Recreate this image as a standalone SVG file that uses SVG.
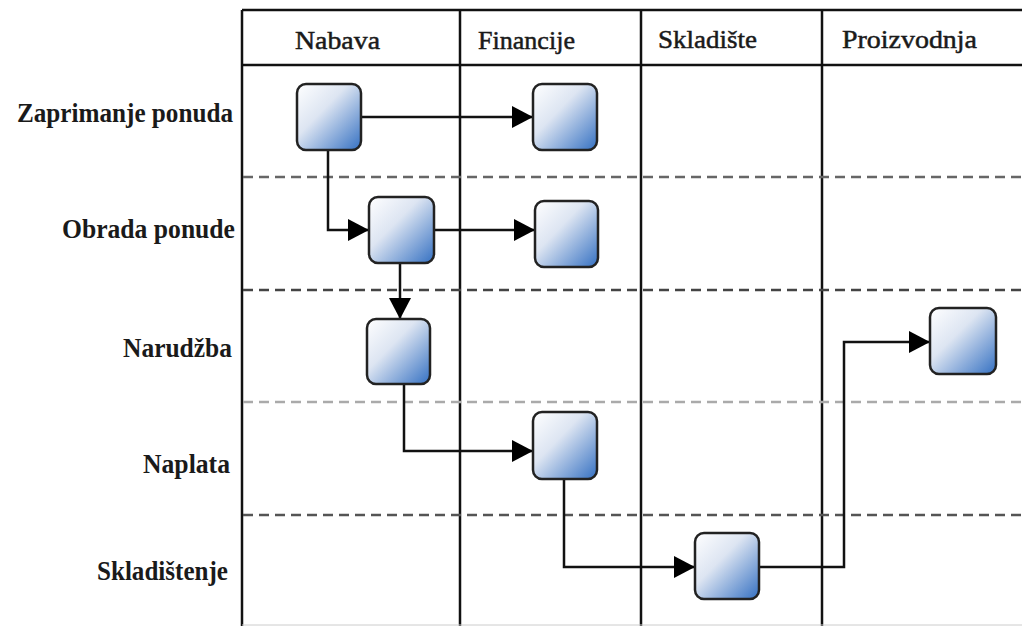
<svg xmlns="http://www.w3.org/2000/svg" width="1022" height="626" viewBox="0 0 1022 626">
<style>
.grid{stroke:#111;stroke-width:2.5;fill:none}
.dash{stroke-width:2.5;stroke-dasharray:10 6;fill:none}
.hdr{font-family:"Liberation Serif","Times New Roman",serif;font-size:26px;fill:#1a1a1a;stroke:#1a1a1a;stroke-width:0.5}
.row{font-family:"Liberation Serif","Times New Roman",serif;font-size:28px;font-weight:bold;fill:#1a1a1a;text-anchor:end}
.box{fill:url(#g);stroke:#222;stroke-width:2.5}
.con{stroke:#111;stroke-width:2.5;fill:none;marker-end:url(#arr)}
</style>
<defs>
<linearGradient id="g" x1="0" y1="0" x2="1" y2="1">
<stop offset="0" stop-color="#ffffff"/>
<stop offset="0.4" stop-color="#dde5f2"/>
<stop offset="1" stop-color="#3470c2"/>
</linearGradient>
<marker id="arr" markerUnits="userSpaceOnUse" markerWidth="22" markerHeight="24" refX="21" refY="12" orient="auto">
<path d="M0,1 L21,12 L0,23 Z" fill="#000"/>
</marker>
</defs>
<rect width="1022" height="626" fill="#fff"/>
<g id="grid">
<line class="grid" x1="242" y1="10" x2="1022" y2="10"/>
<line class="grid" x1="242" y1="65" x2="1022" y2="65"/>
<line class="grid" x1="242" y1="10" x2="242" y2="626"/>
<line class="grid" x1="460" y1="10" x2="460" y2="626"/>
<line class="grid" x1="641" y1="10" x2="641" y2="626"/>
<line class="grid" x1="822" y1="10" x2="822" y2="626"/>
<line x1="242" y1="625" x2="1022" y2="625" stroke="#ccc" stroke-width="1"/>
<line class="dash" x1="243" y1="177" x2="1022" y2="177" stroke="#666"/>
<line class="dash" x1="243" y1="290" x2="1022" y2="290" stroke="#444"/>
<line class="dash" x1="243" y1="402" x2="1022" y2="402" stroke="#aaa"/>
<line class="dash" x1="243" y1="515" x2="1022" y2="515" stroke="#555"/>
</g>
<g id="headers">
<text class="hdr" x="295" y="49" textLength="85" lengthAdjust="spacingAndGlyphs">Nabava</text>
<text class="hdr" x="478" y="49" textLength="97" lengthAdjust="spacingAndGlyphs">Financije</text>
<text class="hdr" x="658" y="48" textLength="99" lengthAdjust="spacingAndGlyphs">Skladište</text>
<text class="hdr" x="842" y="48" textLength="135" lengthAdjust="spacingAndGlyphs">Proizvodnja</text>
</g>
<g id="rows">
<text class="row" x="233" y="122" textLength="216" lengthAdjust="spacingAndGlyphs">Zaprimanje ponuda</text>
<text class="row" x="235" y="238" textLength="173" lengthAdjust="spacingAndGlyphs">Obrada ponude</text>
<text class="row" x="232" y="357" textLength="109" lengthAdjust="spacingAndGlyphs">Narudžba</text>
<text class="row" x="230" y="473" textLength="87" lengthAdjust="spacingAndGlyphs">Naplata</text>
<text class="row" x="228" y="580" textLength="131" lengthAdjust="spacingAndGlyphs">Skladištenje</text>
</g>
<g id="connectors">
<path class="con" d="M361,117 H533"/>
<path class="con" d="M328,150 V230 H369"/>
<path class="con" d="M434,230 H535"/>
<path class="con" d="M400,263 V319"/>
<path class="con" d="M404,384 V451 H533"/>
<path class="con" d="M564,479 V567 H695"/>
<path class="con" d="M759,567 H844 V342 H930"/>
</g>
<g id="n1"><rect class="box" x="297" y="84" width="64" height="66" rx="9"/></g>
<g id="n2"><rect class="box" x="533" y="84" width="64" height="66" rx="9"/></g>
<g id="n3"><rect class="box" x="369" y="197" width="65" height="66" rx="9"/></g>
<g id="n4"><rect class="box" x="535" y="201" width="63" height="66" rx="9"/></g>
<g id="n5"><rect class="box" x="367" y="319" width="63" height="65" rx="9"/></g>
<g id="n6"><rect class="box" x="533" y="412" width="64" height="67" rx="9"/></g>
<g id="n7"><rect class="box" x="695" y="533" width="64" height="66" rx="9"/></g>
<g id="n8"><rect class="box" x="930" y="308" width="66" height="66" rx="9"/></g>
</svg>
